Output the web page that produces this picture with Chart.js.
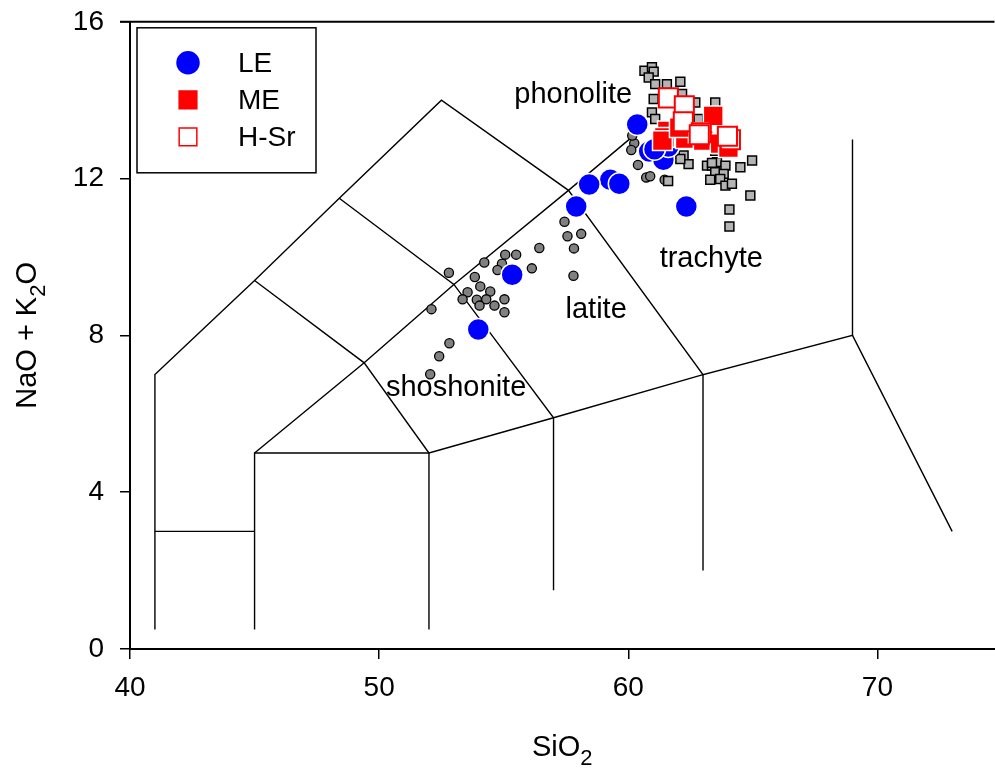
<!DOCTYPE html>
<html>
<head>
<meta charset="utf-8">
<script src="https://cdn.jsdelivr.net/npm/chart.js@4/dist/chart.umd.min.js"></script>
<style>
  html, body { margin: 0; padding: 0; background: #ffffff; overflow: hidden; width: 995px; height: 770px; position: relative; }
  #tas-chart { display: block; position: absolute; left: 0; top: -11px; }
</style>
</head>
<body>
<canvas id="tas-chart" width="1010" height="781"></canvas>
<script>
// axis ticks
const xTicks = [40, 50, 60, 70];
const yTicks = [0, 4, 8, 12, 16];

// LE samples
const leSiO2 = [60.36, 60.84, 61.41, 61.61, 61.05, 59.28, 59.64, 58.43, 57.91, 62.33, 55.34, 53.98];
const leAlk  = [13.38, 12.69, 12.48, 12.82, 12.75, 11.97, 11.87, 11.85, 11.29, 11.29, 9.55, 8.15];

// ME samples
const meSiO2 = [61.57, 61.45, 63.41, 62.29, 63.01, 63.69, 61.37, 62.81, 64.02, 62.05];
const meAlk  = [13.22, 13.05, 13.60, 13.02, 12.97, 12.89, 12.97, 13.17, 12.79, 13.30];

// H-Sr samples
const hsrSiO2 = [61.61, 62.25, 62.21, 62.93, 64.10, 63.98, 62.85];
const hsrAlk  = [14.06, 13.86, 13.45, 13.17, 12.99, 13.08, 13.12];

// literature data, circles
const litCircleSiO2 = [57.44, 57.56, 58.11, 57.82, 57.80, 56.43, 56.13, 55.50, 55.06, 54.93, 54.75, 54.22,
  52.80, 53.84, 54.06, 54.46, 53.55, 53.35, 53.92, 54.30, 54.03, 54.63, 55.03, 55.03, 52.10, 52.82, 52.41, 52.05,
  60.24, 60.12, 60.39, 60.72, 60.88, 61.46, 60.16];
const litCircleAlk = [10.90, 10.53, 10.59, 10.22, 9.52, 10.23, 9.71, 10.06, 10.06, 9.83, 9.67, 9.86,
  9.60, 9.49, 9.25, 9.12, 9.10, 8.92, 8.91, 8.92, 8.76, 8.76, 8.92, 8.59, 8.67, 7.80, 7.47, 7.01,
  12.90, 12.73, 12.35, 12.03, 12.06, 11.97, 13.10];

// literature data, squares
const litSquareSiO2 = [60.65, 60.95, 61.02, 60.82, 61.08, 61.55, 62.09, 61.02, 62.16, 62.69, 63.49, 60.95,
  61.08, 62.82, 62.22, 62.42, 62.09, 63.16, 63.36, 63.56, 63.90, 63.49, 63.83, 63.29, 63.69, 63.90,
  64.16, 64.50, 64.97, 64.90, 64.06, 64.06, 61.77, 61.60, 63.49, 63.36];
const litSquareAlk = [14.75, 14.84, 14.73, 14.58, 14.41, 14.41, 14.47, 14.03, 14.16, 13.94, 13.94, 13.69,
  13.52, 13.52, 12.59, 12.37, 12.50, 12.33, 12.33, 12.42, 12.33, 12.16, 12.12, 11.97, 11.99, 11.82,
  11.87, 12.29, 12.46, 11.57, 11.21, 10.78, 12.71, 11.94, 12.71, 12.40];

// TAS field boundaries
const fieldLines = [
  [[41, 0.5], [41, 7], [45, 9.4], [48.4, 11.5], [52.5, 14], [57.6, 11.7], [63, 7], [69, 8], [73, 3]],
  [[69, 13], [69, 8]],
  [[41, 3], [45, 3]],
  [[45, 0.5], [45, 5], [52, 5], [57, 5.9], [63, 7]],
  [[45, 5], [49.4, 7.3], [53, 9.3], [57.6, 11.7], [60.6, 13.3]],
  [[45, 9.4], [49.4, 7.3], [52, 5], [52, 0.5]],
  [[48.4, 11.5], [53, 9.3], [57, 5.9], [57, 1.5]],
  [[63, 7], [63, 2]]
];

// field names
const fieldNames = ['phonolite', 'trachyte', 'latite', 'shoshonite'];
const fieldNameSiO2 = [57.79, 63.33, 58.71, 53.09];
const fieldNameAlk = [14.14, 9.96, 8.64, 6.65];

const legendLabels = ['LE', 'ME', 'H-Sr'];

const FONT = '"Liberation Sans", Arial, sans-serif';

function toPoints(xs, ys) {
    return xs.map((x, i) => ({ x: x, y: ys[i] }));
}

// field boundary datasets
const lineDatasets = fieldLines.map(line => ({
    label: '',
    data: line.map(p => ({ x: p[0], y: p[1] })),
    showLine: true,
    borderColor: '#000000',
    borderWidth: 1.4,
    pointRadius: 0,
    fill: false,
    order: 5
}));

const datasets = [
    {
        label: 'H-Sr',
        data: toPoints(hsrSiO2, hsrAlk),
        pointStyle: 'rect',
        pointRadius: 13.5,
        backgroundColor: '#ffffff',
        borderColor: '#ff0000',
        borderWidth: 2,
        order: 0
    },
    {
        label: 'ME',
        data: toPoints(meSiO2, meAlk),
        pointStyle: 'rect',
        pointRadius: 14,
        backgroundColor: '#ff0000',
        borderColor: '#ffffff',
        borderWidth: 1.5,
        order: 1
    },
    {
        label: 'LE',
        data: toPoints(leSiO2, leAlk),
        pointStyle: 'circle',
        pointRadius: 11,
        backgroundColor: '#0000ff',
        borderColor: '#ffffff',
        borderWidth: 1.5,
        order: 2
    },
    {
        label: 'lit-squares',
        data: toPoints(litSquareSiO2, litSquareAlk),
        pointStyle: 'rect',
        pointRadius: 6.3,
        backgroundColor: '#b4b4b4',
        borderColor: '#000000',
        borderWidth: 1.5,
        order: 3
    },
    {
        label: 'lit-circles',
        data: toPoints(litCircleSiO2, litCircleAlk),
        pointStyle: 'circle',
        pointRadius: 4.6,
        backgroundColor: '#808080',
        borderColor: '#000000',
        borderWidth: 1.3,
        order: 4
    }
].concat(lineDatasets);

// top frame line, field names, legend box, axis titles
const decorPlugin = {
    id: 'decor',
    afterDatasetsDraw(chart) {
        const ctx = chart.ctx;
        const area = chart.chartArea;
        const xs = chart.scales.x;
        const ys = chart.scales.y;

        ctx.save();
        ctx.strokeStyle = '#000000';
        ctx.lineWidth = 2;
        ctx.beginPath();
        ctx.moveTo(area.left - 10, area.top);
        ctx.lineTo(area.right, area.top);
        ctx.stroke();

        // field names
        ctx.fillStyle = '#000000';
        ctx.font = '29px ' + FONT;
        ctx.textAlign = 'center';
        ctx.textBaseline = 'middle';
        fieldNames.forEach((name, i) => {
            ctx.fillText(name, xs.getPixelForValue(fieldNameSiO2[i]), ys.getPixelForValue(fieldNameAlk[i]));
        });

        // legend
        const boxLeft = area.left + 7, boxTop = area.top + 6, boxW = 179, boxH = 145;
        ctx.fillStyle = '#ffffff';
        ctx.fillRect(boxLeft, boxTop, boxW, boxH);
        ctx.strokeStyle = '#000000';
        ctx.lineWidth = 1.5;
        ctx.strokeRect(boxLeft, boxTop, boxW, boxH);
        legendLabels.forEach((label, i) => {
            const ds = chart.data.datasets.find(d => d.label === label);
            const cy = boxTop + 35 + i * 37;
            ctx.fillStyle = ds.backgroundColor;
            ctx.strokeStyle = ds.borderColor === '#ffffff' ? ds.backgroundColor : ds.borderColor;
            ctx.lineWidth = label === 'H-Sr' ? 1.5 : 0;
            const r = ds.pointStyle === 'rect' ? 12.5 : 11;
            Chart.helpers.drawPoint(ctx, {
                pointStyle: ds.pointStyle,
                radius: r,
                rotation: 0,
                borderWidth: ctx.lineWidth
            }, boxLeft + 51, cy);
            ctx.fillStyle = '#000000';
            ctx.font = '28px ' + FONT;
            ctx.textAlign = 'left';
            ctx.textBaseline = 'middle';
            ctx.fillText(label, boxLeft + 101, cy + 1);
        });
        ctx.restore();
    },
    afterDraw(chart) {
        const ctx = chart.ctx;
        const area = chart.chartArea;
        ctx.save();
        ctx.fillStyle = '#000000';
        ctx.textBaseline = 'alphabetic';
        ctx.textAlign = 'left';

        // x title: SiO2
        ctx.font = '29px ' + FONT;
        const mainX = 'SiO';
        const wMain = ctx.measureText(mainX).width;
        ctx.font = '22px ' + FONT;
        const wSub = ctx.measureText('2').width;
        let sx = (area.left + area.right) / 2 - (wMain + wSub) / 2;
        ctx.font = '29px ' + FONT;
        ctx.fillText(mainX, sx, area.bottom + 107);
        ctx.font = '22px ' + FONT;
        ctx.fillText('2', sx + wMain, area.bottom + 116);

        // y title: NaO + K2O
        ctx.translate(36, (area.top + area.bottom) / 2);
        ctx.rotate(-Math.PI / 2);
        ctx.font = '29px ' + FONT;
        const partA = 'NaO + K';
        const partB = 'O';
        const wa = ctx.measureText(partA).width;
        const wb = ctx.measureText(partB).width;
        ctx.font = '22px ' + FONT;
        const ws = ctx.measureText('2').width;
        let yx = -(wa + ws + wb) / 2;
        ctx.font = '29px ' + FONT;
        ctx.fillText(partA, yx, 0);
        ctx.font = '22px ' + FONT;
        ctx.fillText('2', yx + wa, 9);
        ctx.font = '29px ' + FONT;
        ctx.fillText(partB, yx + wa + ws, 0);
        ctx.restore();
    }
};

document.addEventListener('DOMContentLoaded', function() {
    const canvas = document.getElementById('tas-chart');
    if (!canvas) {
        console.error('canvas not found');
        return;
    }

    new Chart(canvas, {
        type: 'scatter',
        data: { datasets: datasets },
        options: {
            responsive: false,
            animation: false,
            layout: { padding: 0 },
            plugins: {
                legend: { display: false },
                tooltip: { enabled: false }
            },
            scales: {
                x: {
                    type: 'linear',
                    min: 40,
                    max: 74.7,
                    afterBuildTicks: scale => { scale.ticks = xTicks.map(v => ({ value: v })); },
                    afterFit: scale => { scale.height = 121; },
                    grid: {
                        drawOnChartArea: false,
                        drawTicks: true,
                        tickLength: 10,
                        color: '#000000',
                        lineWidth: 1.5
                    },
                    border: { display: true, color: '#000000', width: 2 },
                    ticks: {
                        color: '#000000',
                        font: { family: FONT, size: 28 },
                        padding: 12,
                        maxRotation: 0
                    }
                },
                y: {
                    type: 'linear',
                    min: 0,
                    max: 16,
                    afterBuildTicks: scale => { scale.ticks = yTicks.map(v => ({ value: v })); },
                    afterFit: scale => { scale.width = 130; },
                    grid: {
                        drawOnChartArea: false,
                        drawTicks: true,
                        tickLength: 10,
                        color: '#000000',
                        lineWidth: 1.5
                    },
                    border: { display: true, color: '#000000', width: 2 },
                    ticks: {
                        color: '#000000',
                        font: { family: FONT, size: 28 },
                        padding: 16
                    }
                }
            }
        },
        plugins: [decorPlugin]
    });
});
</script>
</body>
</html>
